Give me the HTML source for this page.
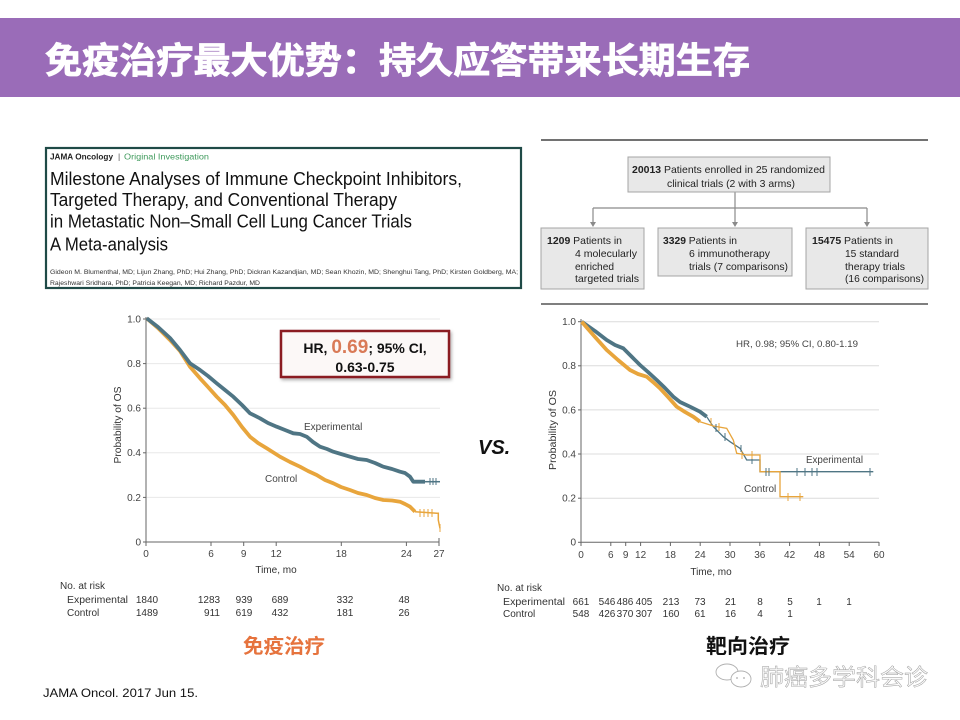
<!DOCTYPE html>
<html><head><meta charset="utf-8"><style>
html,body{margin:0;padding:0;background:#fff;}
svg{display:block;}
</style></head><body>
<svg width="960" height="720" viewBox="0 0 960 720" xmlns="http://www.w3.org/2000/svg">
<defs>
<filter id="sh" x="-10%" y="-10%" width="130%" height="140%"><feDropShadow dx="1.5" dy="2" stdDeviation="1.5" flood-color="#000" flood-opacity="0.3"/></filter>
</defs>
<rect width="960" height="720" fill="#fff"/>
<!-- title bar -->
<rect x="0" y="18" width="960" height="79" fill="#9a6cb8"/>
<text x="45" y="73" font-family="'Liberation Sans','Noto Sans CJK SC',sans-serif" font-weight="bold" font-size="36" fill="#fff" stroke="#fff" stroke-width="0.8" textLength="705" lengthAdjust="spacingAndGlyphs">免疫治疗最大优势：持久应答带来长期生存</text>

<!-- JAMA box -->
<rect x="46" y="148" width="475" height="140" fill="#fff" stroke="#1f4a47" stroke-width="2.2"/>
<g font-family="'Liberation Sans',sans-serif">
<text x="50" y="159.5" font-size="8.5" font-weight="bold" fill="#222" textLength="63" lengthAdjust="spacingAndGlyphs">JAMA Oncology</text>
<text x="118" y="159.5" font-size="8.5" fill="#555">|</text>
<text x="124" y="159.5" font-size="8.5" fill="#3f9a5c" textLength="85" lengthAdjust="spacingAndGlyphs">Original Investigation</text>
<text x="50" y="185" font-size="18" fill="#111" textLength="412" lengthAdjust="spacingAndGlyphs">Milestone Analyses of Immune Checkpoint Inhibitors,</text>
<text x="50" y="206" font-size="18" fill="#111" textLength="347" lengthAdjust="spacingAndGlyphs">Targeted Therapy, and Conventional Therapy</text>
<text x="50" y="227.5" font-size="18" fill="#111" textLength="362" lengthAdjust="spacingAndGlyphs">in Metastatic Non–Small Cell Lung Cancer Trials</text>
<text x="50" y="250.5" font-size="18" fill="#111" textLength="118" lengthAdjust="spacingAndGlyphs">A Meta-analysis</text>
<text x="50" y="274" font-size="6.5" fill="#333" textLength="468" lengthAdjust="spacingAndGlyphs">Gideon M. Blumenthal, MD; Lijun Zhang, PhD; Hui Zhang, PhD; Dickran Kazandjian, MD; Sean Khozin, MD; Shenghui Tang, PhD; Kirsten Goldberg, MA;</text>
<text x="50" y="285" font-size="6.5" fill="#333" textLength="210" lengthAdjust="spacingAndGlyphs">Rajeshwari Sridhara, PhD; Patricia Keegan, MD; Richard Pazdur, MD</text>
</g>

<!-- flowchart -->
<line x1="541" y1="140" x2="928" y2="140" stroke="#444" stroke-width="1.6"/>
<line x1="541" y1="304" x2="928" y2="304" stroke="#555" stroke-width="1.6"/>
<g stroke="#8a8a8a" stroke-width="1.2" fill="none">
<line x1="735" y1="192" x2="735" y2="208"/>
<line x1="593" y1="208" x2="867" y2="208"/>
<line x1="593" y1="208" x2="593" y2="224"/>
<line x1="735" y1="208" x2="735" y2="224"/>
<line x1="867" y1="208" x2="867" y2="224"/>
</g>
<g fill="#8a8a8a">
<polygon points="590,222 596,222 593,227"/>
<polygon points="732,222 738,222 735,227"/>
<polygon points="864,222 870,222 867,227"/>
</g>
<g fill="#e8e8e8" stroke="#a5a5a5" stroke-width="1">
<rect x="628" y="157" width="202" height="35"/>
<rect x="541" y="228" width="103" height="61"/>
<rect x="658" y="228" width="134" height="48"/>
<rect x="806" y="228" width="122" height="61"/>
</g>
<g font-family="'Liberation Sans',sans-serif" font-size="10.5" fill="#222">
<text x="632" y="173" textLength="193" lengthAdjust="spacingAndGlyphs"><tspan font-weight="bold">20013</tspan> Patients enrolled in 25 randomized</text>
<text x="667" y="187" textLength="128" lengthAdjust="spacingAndGlyphs">clinical trials (2 with 3 arms)</text>
<text x="547" y="244" textLength="75" lengthAdjust="spacingAndGlyphs"><tspan font-weight="bold">1209</tspan> Patients in</text>
<text x="575" y="257" textLength="62" lengthAdjust="spacingAndGlyphs">4 molecularly</text>
<text x="575" y="270" textLength="39" lengthAdjust="spacingAndGlyphs">enriched</text>
<text x="575" y="282" textLength="64" lengthAdjust="spacingAndGlyphs">targeted trials</text>
<text x="663" y="244" textLength="74" lengthAdjust="spacingAndGlyphs"><tspan font-weight="bold">3329</tspan> Patients in</text>
<text x="689" y="257" textLength="81" lengthAdjust="spacingAndGlyphs">6 immunotherapy</text>
<text x="689" y="270" textLength="99" lengthAdjust="spacingAndGlyphs">trials (7 comparisons)</text>
<text x="812" y="244" textLength="81" lengthAdjust="spacingAndGlyphs"><tspan font-weight="bold">15475</tspan> Patients in</text>
<text x="845" y="257" textLength="54" lengthAdjust="spacingAndGlyphs">15 standard</text>
<text x="845" y="270" textLength="60" lengthAdjust="spacingAndGlyphs">therapy trials</text>
<text x="845" y="282" textLength="79" lengthAdjust="spacingAndGlyphs">(16 comparisons)</text>
</g>

<!-- LEFT CHART -->
<g stroke="#e8e8e8" stroke-width="1">
<line x1="146" y1="319" x2="440" y2="319"/>
<line x1="146" y1="363.6" x2="440" y2="363.6"/>
<line x1="146" y1="408.2" x2="440" y2="408.2"/>
<line x1="146" y1="452.8" x2="440" y2="452.8"/>
<line x1="146" y1="497.4" x2="440" y2="497.4"/>
</g>
<g stroke="#666" stroke-width="1" fill="none">
<line x1="146" y1="317" x2="146" y2="542"/>
<line x1="146" y1="542" x2="439" y2="542"/>
<line x1="143" y1="319" x2="146" y2="319"/>
<line x1="143" y1="363.6" x2="146" y2="363.6"/>
<line x1="143" y1="408.2" x2="146" y2="408.2"/>
<line x1="143" y1="452.8" x2="146" y2="452.8"/>
<line x1="143" y1="497.4" x2="146" y2="497.4"/>
<line x1="143" y1="542" x2="146" y2="542"/>
<line x1="146" y1="542" x2="146" y2="546"/>
<line x1="211" y1="542" x2="211" y2="546"/>
<line x1="243.7" y1="542" x2="243.7" y2="546"/>
<line x1="276.2" y1="542" x2="276.2" y2="546"/>
<line x1="341.3" y1="542" x2="341.3" y2="546"/>
<line x1="406.4" y1="542" x2="406.4" y2="546"/>
<line x1="439" y1="538" x2="439" y2="546"/>
</g>
<g font-family="'Liberation Sans',sans-serif" font-size="10" fill="#444">
<text x="141" y="322.5" text-anchor="end">1.0</text>
<text x="141" y="367" text-anchor="end">0.8</text>
<text x="141" y="411.5" text-anchor="end">0.6</text>
<text x="141" y="456" text-anchor="end">0.4</text>
<text x="141" y="500.8" text-anchor="end">0.2</text>
<text x="141" y="545.5" text-anchor="end">0</text>
<text x="146" y="557" text-anchor="middle">0</text>
<text x="211" y="557" text-anchor="middle">6</text>
<text x="243.7" y="557" text-anchor="middle">9</text>
<text x="276.2" y="557" text-anchor="middle">12</text>
<text x="341.3" y="557" text-anchor="middle">18</text>
<text x="406.4" y="557" text-anchor="middle">24</text>
<text x="439" y="557" text-anchor="middle">27</text>
<text x="276" y="573" text-anchor="middle" fill="#333">Time, mo</text>
<text transform="translate(121,425) rotate(-90)" text-anchor="middle" fill="#333" textLength="77" lengthAdjust="spacingAndGlyphs">Probability of OS</text>
<text x="304" y="430" fill="#444">Experimental</text>
<text x="265" y="482" fill="#444">Control</text>
</g>
<!-- curves left -->
<polyline fill="none" stroke="#e8a53c" stroke-width="3.8" stroke-linejoin="round" points="146.7,318.3 158,328 170,340 180,351 190,366.7 200,378.3 208,387 216.7,396.7 225,405 233.3,415 242,427 250,436.7 258,443 266.7,448.3 280,456.7 290,462 300,466.7 308,471 316.7,475 325,480 333.3,483.3 341,487 350,490 358,493 366.7,495 375,498 383.3,500 392,500.5 400,501.7 405,504 410,506.7 415,511.7"/>
<polyline fill="none" stroke="#e8a53c" stroke-width="1.5" points="415,511.7 437,513.3 438.3,513.3 438.3,520 440,528.3"/>
<polyline fill="none" stroke="#4f7584" stroke-width="3.8" stroke-linejoin="round" points="146.7,318.3 158,327 170,338 180,350 190,363.3 200,370 208,376 216.7,383.3 225,390 233.3,396.7 242,405 250,413.3 260,418.3 268,423 276.7,426.7 285,430 293.3,433.3 300,434 306.7,436.7 313,442 320,446.7 327,449 333.3,451.7 341,454 350,456.7 358,459 366.7,460 375,463 383.3,466.7 392,469 400,471.7 405,473 410,476.7 413.3,481.7 425,481.7"/>
<polyline fill="none" stroke="#4f7584" stroke-width="1.5" points="425,481.7 440,481.7"/>
<g stroke="#4f7584" stroke-width="1"><line x1="430" y1="478" x2="430" y2="485"/><line x1="433" y1="478" x2="433" y2="485"/><line x1="436" y1="478" x2="436" y2="485"/></g>
<g stroke="#e8a53c" stroke-width="1"><line x1="420" y1="509" x2="420" y2="517"/><line x1="424" y1="509" x2="424" y2="517"/><line x1="428" y1="509" x2="428" y2="517"/><line x1="432" y1="509" x2="432" y2="517"/><line x1="440" y1="524" x2="440" y2="532"/></g>

<!-- HR box -->
<rect x="281" y="331" width="168" height="46" fill="#fcf8f7" stroke="#8b1c24" stroke-width="2.5" filter="url(#sh)"/>
<text x="365" y="353" text-anchor="middle" font-family="'Liberation Sans',sans-serif" font-weight="bold" font-size="14" fill="#111">HR, <tspan font-size="19" fill="#d97a57">0.69</tspan>; 95% CI,</text>
<text x="365" y="372" text-anchor="middle" font-family="'Liberation Sans',sans-serif" font-weight="bold" font-size="14" fill="#111">0.63-0.75</text>

<!-- left risk table -->
<g font-family="'Liberation Sans',sans-serif" font-size="10" fill="#333">
<text x="60" y="589">No. at risk</text>
<text x="67" y="603" textLength="61" lengthAdjust="spacingAndGlyphs">Experimental</text>
<text x="67" y="616">Control</text>
<g text-anchor="middle">
<text x="147" y="603">1840</text><text x="209" y="603">1283</text><text x="244" y="603">939</text><text x="280" y="603">689</text><text x="345" y="603">332</text><text x="404" y="603">48</text>
<text x="147" y="616">1489</text><text x="212" y="616">911</text><text x="244" y="616">619</text><text x="280" y="616">432</text><text x="345" y="616">181</text><text x="404" y="616">26</text>
</g>
</g>
<text x="243" y="653" font-family="'Liberation Sans','Noto Sans CJK SC',sans-serif" font-weight="bold" font-size="20" fill="#e6733d" textLength="82" lengthAdjust="spacingAndGlyphs">免疫治疗</text>

<!-- VS -->
<text x="478" y="454" font-family="'Liberation Sans',sans-serif" font-weight="bold" font-style="italic" font-size="20" fill="#111">VS.</text>

<!-- RIGHT CHART -->
<g stroke="#dcdcdc" stroke-width="1">
<line x1="581" y1="321.7" x2="879" y2="321.7"/>
<line x1="581" y1="365.8" x2="879" y2="365.8"/>
<line x1="581" y1="409.9" x2="879" y2="409.9"/>
<line x1="581" y1="454" x2="879" y2="454"/>
<line x1="581" y1="498.2" x2="879" y2="498.2"/>
</g>
<g stroke="#666" stroke-width="1" fill="none">
<line x1="581" y1="319" x2="581" y2="542.3"/>
<line x1="581" y1="542.3" x2="879" y2="542.3"/>
<line x1="578" y1="321.7" x2="581" y2="321.7"/>
<line x1="578" y1="365.8" x2="581" y2="365.8"/>
<line x1="578" y1="409.9" x2="581" y2="409.9"/>
<line x1="578" y1="454" x2="581" y2="454"/>
<line x1="578" y1="498.2" x2="581" y2="498.2"/>
<line x1="578" y1="542.3" x2="581" y2="542.3"/>
<line x1="581" y1="542" x2="581" y2="546"/><line x1="610.8" y1="542" x2="610.8" y2="546"/><line x1="625.7" y1="542" x2="625.7" y2="546"/><line x1="640.6" y1="542" x2="640.6" y2="546"/><line x1="670.4" y1="542" x2="670.4" y2="546"/><line x1="700.2" y1="542" x2="700.2" y2="546"/><line x1="730" y1="542" x2="730" y2="546"/><line x1="759.8" y1="542" x2="759.8" y2="546"/><line x1="789.6" y1="542" x2="789.6" y2="546"/><line x1="819.4" y1="542" x2="819.4" y2="546"/><line x1="849.2" y1="542" x2="849.2" y2="546"/><line x1="879" y1="542" x2="879" y2="546"/>
</g>
<g font-family="'Liberation Sans',sans-serif" font-size="10" fill="#444">
<text x="576" y="325" text-anchor="end">1.0</text>
<text x="576" y="369.2" text-anchor="end">0.8</text>
<text x="576" y="413.3" text-anchor="end">0.6</text>
<text x="576" y="457.4" text-anchor="end">0.4</text>
<text x="576" y="501.6" text-anchor="end">0.2</text>
<text x="576" y="545.7" text-anchor="end">0</text>
<g text-anchor="middle">
<text x="581" y="558">0</text><text x="610.8" y="558">6</text><text x="625.7" y="558">9</text><text x="640.6" y="558">12</text><text x="670.4" y="558">18</text><text x="700.2" y="558">24</text><text x="730" y="558">30</text><text x="759.8" y="558">36</text><text x="789.6" y="558">42</text><text x="819.4" y="558">48</text><text x="849.2" y="558">54</text><text x="879" y="558">60</text>
</g>
<text x="711" y="575" text-anchor="middle" fill="#333">Time, mo</text>
<text transform="translate(556,430) rotate(-90)" text-anchor="middle" fill="#333" textLength="80" lengthAdjust="spacingAndGlyphs">Probability of OS</text>
<text x="736" y="347" fill="#444" font-size="9.5" textLength="122" lengthAdjust="spacingAndGlyphs">HR, 0.98; 95% CI, 0.80-1.19</text>
<text x="806" y="463" fill="#444" textLength="57" lengthAdjust="spacingAndGlyphs">Experimental</text>
<text x="744" y="492" fill="#444">Control</text>
</g>
<polyline fill="none" stroke="#4f7584" stroke-width="3.8" stroke-linejoin="round" points="581.7,321.7 595,331 606.7,340 615,345 623.3,348.3 632,357 640,365 648,372 656.7,380 665,388 673.3,396.7 680,402 690,406.7 700,411.7 706.7,416.7"/>
<polyline fill="none" stroke="#e8a53c" stroke-width="3.8" stroke-linejoin="round" points="581.7,321.7 595,337 606.7,350 618,360 630,370 638,374 646.7,376.7 653,382 660,388.3 668,397 676.7,406.7 685,412 693.3,416.7 700,421.7"/>
<polyline fill="none" stroke="#4f7584" stroke-width="1.3" points="706.7,416.7 713.3,426.7 723.3,436.7 730,441.7 740,448.3 746.7,460 760,460 760,471.7 873.3,471.7"/>
<polyline fill="none" stroke="#e8a53c" stroke-width="1.3" points="700,421.7 713.3,426 726.7,428.3 733.3,440 736.7,453.3 746.7,455 760,455 760,471.7 780,471.7 780,496.7 803.3,496.7"/>
<g stroke="#4f7584" stroke-width="1"><line x1="716" y1="424" x2="716" y2="432"/><line x1="725" y1="433" x2="725" y2="441"/><line x1="741" y1="445" x2="741" y2="452"/><line x1="752" y1="456" x2="752" y2="464"/><line x1="766" y1="468" x2="766" y2="476"/><line x1="769" y1="468" x2="769" y2="476"/><line x1="797" y1="468" x2="797" y2="476"/><line x1="805" y1="468" x2="805" y2="476"/><line x1="812" y1="468" x2="812" y2="476"/><line x1="817" y1="468" x2="817" y2="476"/><line x1="870" y1="468" x2="870" y2="476"/></g>
<g stroke="#e8a53c" stroke-width="1"><line x1="711" y1="418" x2="711" y2="426"/><line x1="719" y1="423" x2="719" y2="431"/><line x1="742" y1="451" x2="742" y2="459"/><line x1="752" y1="451" x2="752" y2="459"/><line x1="788" y1="493" x2="788" y2="501"/><line x1="800" y1="493" x2="800" y2="501"/></g>

<!-- right risk table -->
<g font-family="'Liberation Sans',sans-serif" font-size="10" fill="#333">
<text x="497" y="591">No. at risk</text>
<text x="503" y="605" textLength="62" lengthAdjust="spacingAndGlyphs">Experimental</text>
<text x="503" y="617">Control</text>
<g text-anchor="middle">
<text x="581" y="605">661</text><text x="607" y="605">546</text><text x="625" y="605">486</text><text x="644" y="605">405</text><text x="671" y="605">213</text><text x="700" y="605">73</text><text x="730.5" y="605">21</text><text x="760" y="605">8</text><text x="790" y="605">5</text><text x="819" y="605">1</text><text x="849" y="605">1</text>
<text x="581" y="617">548</text><text x="607" y="617">426</text><text x="625" y="617">370</text><text x="644" y="617">307</text><text x="671" y="617">160</text><text x="700" y="617">61</text><text x="730.5" y="617">16</text><text x="760" y="617">4</text><text x="790" y="617">1</text>
</g>
</g>
<text x="706" y="653" font-family="'Liberation Sans','Noto Sans CJK SC',sans-serif" font-weight="bold" font-size="20" fill="#111" textLength="84" lengthAdjust="spacingAndGlyphs">靶向治疗</text>

<!-- watermark -->
<g fill="none" stroke="#b0b0b0" stroke-width="0.9">
<ellipse cx="727" cy="672" rx="11" ry="8"/>
<ellipse cx="741" cy="679" rx="10" ry="8" fill="#fff"/>
</g>
<g fill="#aaa"><circle cx="737" cy="678" r="0.9"/><circle cx="744" cy="678" r="0.9"/></g>
<text x="760" y="685" font-family="'Liberation Sans','Noto Sans CJK SC',sans-serif" font-size="23" fill="#fafafa" stroke="#9a9a9a" stroke-width="0.45" textLength="168" lengthAdjust="spacingAndGlyphs">肺癌多学科会诊</text>

<!-- citation -->
<text x="43" y="697" font-family="'Liberation Sans',sans-serif" font-size="12" fill="#111" textLength="155" lengthAdjust="spacingAndGlyphs">JAMA Oncol. 2017 Jun 15.</text>
</svg>
</body></html>
